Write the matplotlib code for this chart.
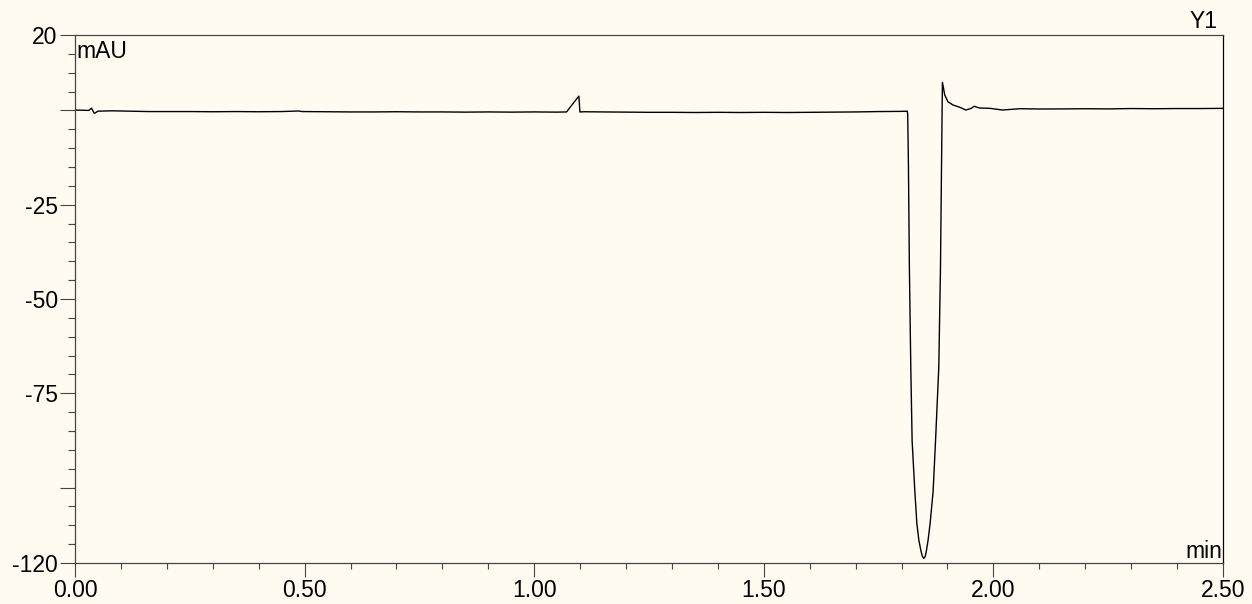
import matplotlib
matplotlib.use('Agg')
import matplotlib.pyplot as plt
from matplotlib.ticker import FixedLocator, MultipleLocator, FixedFormatter

plt.rcParams['font.family'] = ['Liberation Sans', 'DejaVu Sans']

BG = '#fffbf0'
AX = '#444444'
FS = 16.5

# retention time (min) and detector signal (mAU)
time_min = [0.000, 0.030, 0.036, 0.042, 0.050, 0.080, 0.120, 0.160, 0.200, 0.250,
            0.300, 0.350, 0.400, 0.450, 0.486, 0.495, 0.550, 0.600, 0.650, 0.700,
            0.750, 0.800, 0.850, 0.900, 0.950, 1.000, 1.050, 1.0705, 1.085, 1.0973,
            1.0995, 1.110, 1.150, 1.200, 1.250, 1.300, 1.350, 1.400, 1.450, 1.500,
            1.550, 1.600, 1.650, 1.700, 1.750, 1.800, 1.8125, 1.8134, 1.8150, 1.8170,
            1.8201, 1.8230, 1.8289, 1.8333, 1.8376, 1.8419, 1.8452, 1.8484, 1.8517, 1.8543,
            1.8578, 1.8622, 1.8687, 1.8740, 1.8811, 1.8848, 1.8870, 1.8883, 1.8890, 1.894,
            1.901, 1.912, 1.927, 1.940, 1.952, 1.958, 1.963, 1.970, 1.992, 2.020,
            2.057, 2.101, 2.150, 2.200, 2.250, 2.300, 2.350, 2.400, 2.450, 2.500]
signal_mau = [0.1, 0.0, 0.6, -0.8, -0.2, -0.1, -0.2, -0.3, -0.3, -0.3,
              -0.35, -0.3, -0.35, -0.3, -0.15, -0.3, -0.35, -0.4, -0.4, -0.35,
              -0.4, -0.4, -0.45, -0.4, -0.45, -0.4, -0.45, -0.4, 1.9, 3.8,
              -0.4, -0.35, -0.4, -0.45, -0.5, -0.5, -0.55, -0.5, -0.55, -0.5,
              -0.55, -0.5, -0.45, -0.4, -0.3, -0.25, -0.2, -1.0, -14.9, -41.4,
              -68.0, -87.6, -101.0, -109.5, -113.9, -116.6, -118.2, -118.8, -118.2, -116.6,
              -113.9, -109.5, -101.0, -87.6, -68.0, -41.4, -14.9, 0.0, 7.45, 4.1,
              2.3, 1.44, 0.83, 0.11, 0.56, 1.1, 0.9, 0.64, 0.56, 0.11,
              0.45, 0.38, 0.4, 0.45, 0.4, 0.5, 0.45, 0.5, 0.5, 0.55]

y_major = [20, 0, -25, -50, -75, -100, -120]
y_labels = ['20', '', '-25', '-50', '-75', '', '-120']
x_major = [0.0, 0.5, 1.0, 1.5, 2.0, 2.5]
x_labels = ['0.00', '0.50', '1.00', '1.50', '2.00', '2.50']

fig = plt.figure(figsize=(12.52, 6.04), dpi=100, facecolor=BG)
ax = fig.add_axes([75 / 1252, 1 - 563 / 604, 1148 / 1252, 528 / 604])
ax.set_facecolor(BG)

ax.plot(time_min, signal_mau, color='black', lw=1.0)

ax.set_xlim(0, 2.5)
ax.set_ylim(-120, 20)

ax.yaxis.set_major_locator(FixedLocator(y_major))
ax.yaxis.set_major_formatter(FixedFormatter(y_labels))
ax.yaxis.set_minor_locator(MultipleLocator(5))
ax.xaxis.set_major_locator(FixedLocator(x_major))
ax.xaxis.set_major_formatter(FixedFormatter(x_labels))
ax.xaxis.set_minor_locator(MultipleLocator(0.1))

ax.tick_params(axis='y', which='major', length=11, width=0.8, color=AX, pad=1.5, labelsize=FS)
ax.tick_params(axis='y', which='minor', length=5, width=0.8, color=AX)
ax.tick_params(axis='x', which='major', length=10, width=0.8, color=AX, pad=1.5, labelsize=FS)
ax.tick_params(axis='x', which='minor', length=4, width=0.8, color=AX)

for s in ax.spines.values():
    s.set_color(AX)
    s.set_linewidth(0.9)
ax.spines['right'].set_color('black')

ax.text(0.001, 0.956, 'mAU', transform=ax.transAxes, ha='left', va='baseline', fontsize=FS)
ax.text(0.999, 0.0095, 'min', transform=ax.transAxes, ha='right', va='baseline', fontsize=FS)
ax.text(0.9956, 1.0127, 'Y1', transform=ax.transAxes, ha='right', va='baseline', fontsize=FS)

fig.savefig('out.png', dpi=100, facecolor=BG)
